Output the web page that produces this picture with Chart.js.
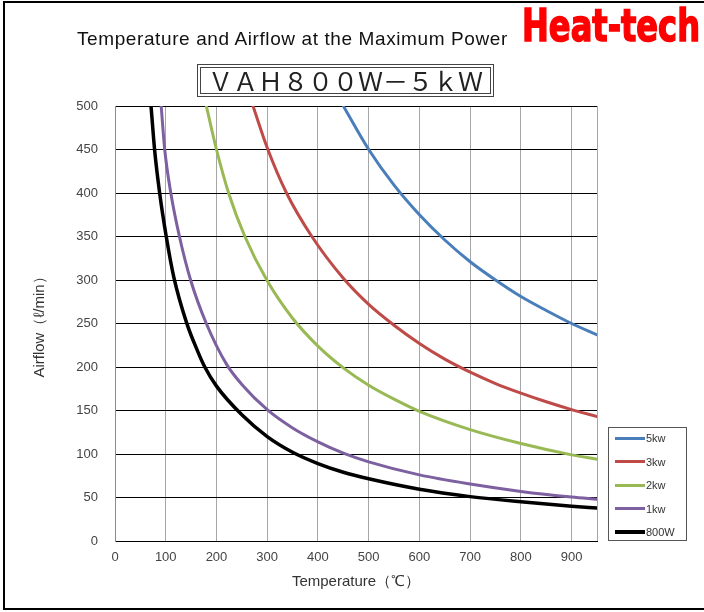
<!DOCTYPE html>
<html>
<head>
<meta charset="utf-8">
<title>VAH800W-5kW</title>
<script src="https://cdn.jsdelivr.net/npm/chart.js@4.4.0/dist/chart.umd.min.js"></script>
<style>
  body { margin: 0; background: #fff; overflow: hidden; }
  #page { position: relative; width: 704px; height: 612px; overflow: hidden; font-family: "Liberation Sans", Arial, sans-serif; }
  #frame { position: absolute; left: 3px; top: 1px; width: 720px; height: 609px; box-sizing: border-box; border: 2px solid #000; }
  #chart { position: absolute; left: 0; top: 0; }
  #title { position: absolute; left: 77px; top: 29px; font-size: 19px; letter-spacing: 0.6px; line-height: 20px; color: #111; white-space: nowrap; }
  #logo { position: absolute; left: 522px; top: 3px; font-family: "DejaVu Sans Condensed", "DejaVu Sans", sans-serif; font-weight: bold;
          font-size: 45px; line-height: 45px; color: #f00; -webkit-text-stroke: 1.5px #f00; transform-origin: 0 0; white-space: nowrap; }
  #model { position: absolute; left: 197px; top: 64px; width: 297px; height: 33px; box-sizing: border-box; border: 4px double #444;
           font-family: "Noto Sans CJK JP", sans-serif; font-size: 25px; line-height: 25px; text-align: center; color: #222; white-space: nowrap; }
  #legend { position: absolute; left: 608px; top: 427px; width: 79px; height: 114px; box-sizing: border-box; border: 1px solid #555; background: #fff; }
  #legend .item { position: absolute; left: 6px; height: 14px; display: flex; align-items: center; font-size: 11px; color: #333; }
  #legend .swatch { width: 30px; height: 3px; margin-right: 1px; }
</style>
</head>
<body>
<div id="page">
  <canvas id="chart" width="704" height="612"></canvas>
  <div id="frame"></div>
  <div id="title">Temperature and Airflow at the Maximum Power</div>
  <div id="logo">Heat-tech</div>
  <div id="model">ＶＡＨ８００Ｗ－５ｋＷ</div>
  <div id="legend"></div>
</div>
<script>
// axis ticks
const tempTicks = [0, 100, 200, 300, 400, 500, 600, 700, 800, 900];
const tempMax = 950;
const flowTicks = [0, 50, 100, 150, 200, 250, 300, 350, 400, 450, 500];

// temperature (℃) / airflow (ℓ/min) per heater output
const temp5kw = [450, 500, 550, 600, 650, 700, 750, 800, 850, 900, 950];
const flow5kw = [500, 450, 409, 375, 346, 321, 300, 281, 265, 250, 237];

const temp3kw = [272, 300, 338, 388, 450, 500, 550, 600, 650, 700, 750, 800, 850, 900, 950];
const flow3kw = [500, 452, 400, 350, 302, 272, 248, 227, 209, 194, 181, 170, 160, 151, 143];

const temp2kw = [180, 200, 225, 256, 300, 350, 400, 450, 500, 550, 600, 700, 800, 900, 950];
const flow2kw = [500, 450, 398, 350, 299, 256, 224, 199, 179, 163, 149, 128, 112, 99, 94];

const temp1kw = [91, 98, 110, 127, 149, 180, 220, 250, 300, 350, 400, 450, 500, 600, 700, 800, 900, 950];
const flow1kw = [500, 450, 400, 350, 300, 250, 203, 180, 151, 130, 114, 101, 91, 76, 65.5, 57, 50.5, 48];

const temp800w = [71, 78, 88, 101, 116, 141, 163, 177, 200, 250, 300, 350, 400, 450, 500, 600, 700, 800, 900, 950];
const flow800w = [500, 450, 400, 350, 303, 251, 218, 200, 178, 145, 120, 102, 89, 79, 71.5, 59.5, 51, 45, 40, 37.8];

const series = [
    { label: '5kw',  temp: temp5kw,  flow: flow5kw,  color: '#4a7ebb', width: 3 },
    { label: '3kw',  temp: temp3kw,  flow: flow3kw,  color: '#be4b48', width: 3 },
    { label: '2kw',  temp: temp2kw,  flow: flow2kw,  color: '#98b954', width: 3 },
    { label: '1kw',  temp: temp1kw,  flow: flow1kw,  color: '#7d60a0', width: 3 },
    { label: '800W', temp: temp800w, flow: flow800w, color: '#000000', width: 3.5 }
];

const tickFont = { family: '"Liberation Sans", Arial, sans-serif', size: 13 };
const titleFont = { family: '"Liberation Sans", Arial, sans-serif', size: 15 };

const chart = new Chart(document.getElementById('chart'), {
    type: 'line',
    data: {
        datasets: series.map(s => ({
            label: s.label,
            data: s.temp.map((t, i) => ({ x: t, y: s.flow[i] })),
            borderColor: s.color,
            backgroundColor: s.color,
            borderWidth: s.width,
            fill: false
        }))
    },
    options: {
        responsive: false,
        animation: false,
        devicePixelRatio: 1,
        layout: { padding: { top: 106, right: 107, bottom: 0, left: 0 } },
        plugins: { legend: { display: false }, tooltip: { enabled: false } },
        elements: {
            point: { radius: 0 },
            line: { cubicInterpolationMode: 'monotone', borderJoinStyle: 'round', borderCapStyle: 'round' }
        },
        scales: {
            x: {
                type: 'linear',
                min: 0,
                max: tempMax,
                afterFit: scale => { scale.height = 71; },
                afterBuildTicks: scale => {
                    scale.ticks = tempTicks.concat(tempMax).map(v => ({ value: v }));
                },
                grid: { color: '#a6a6a6', drawTicks: false },
                border: { color: '#000' },
                ticks: {
                    autoSkip: false,
                    maxRotation: 0,
                    padding: 9,
                    color: '#444',
                    font: tickFont,
                    callback: v => tempTicks.includes(v) ? v : ''
                },
                title: {
                    display: true,
                    text: 'Temperature（℃）',
                    color: '#333',
                    font: titleFont,
                    padding: { top: 0, bottom: 21 }
                }
            },
            y: {
                min: 0,
                max: 500,
                afterFit: scale => { scale.width = 115; },
                afterBuildTicks: scale => {
                    scale.ticks = flowTicks.map(v => ({ value: v }));
                },
                grid: { color: '#000', drawTicks: false },
                border: { color: '#8c8c8c' },
                ticks: { padding: 17, color: '#444', font: tickFont },
                title: {
                    display: true,
                    text: 'Airflow（ℓ/min）',
                    color: '#333',
                    font: titleFont,
                    padding: { top: 31, bottom: 0 }
                }
            }
        }
    }
});

// legend box on the right, built from the datasets
const legend = document.getElementById('legend');
chart.data.datasets.forEach((ds, i) => {
    const item = document.createElement('div');
    item.className = 'item';
    item.style.top = (3.3 + i * 23.4) + 'px';
    const swatch = document.createElement('span');
    swatch.className = 'swatch';
    swatch.style.background = ds.borderColor;
    swatch.style.height = ds.borderWidth + 'px';
    item.appendChild(swatch);
    item.appendChild(document.createTextNode(ds.label));
    legend.appendChild(item);
});

// squeeze the logo to its width
const logo = document.getElementById('logo');
logo.style.transform = 'scaleX(' + (178 / logo.getBoundingClientRect().width) + ')';
</script>
</body>
</html>
